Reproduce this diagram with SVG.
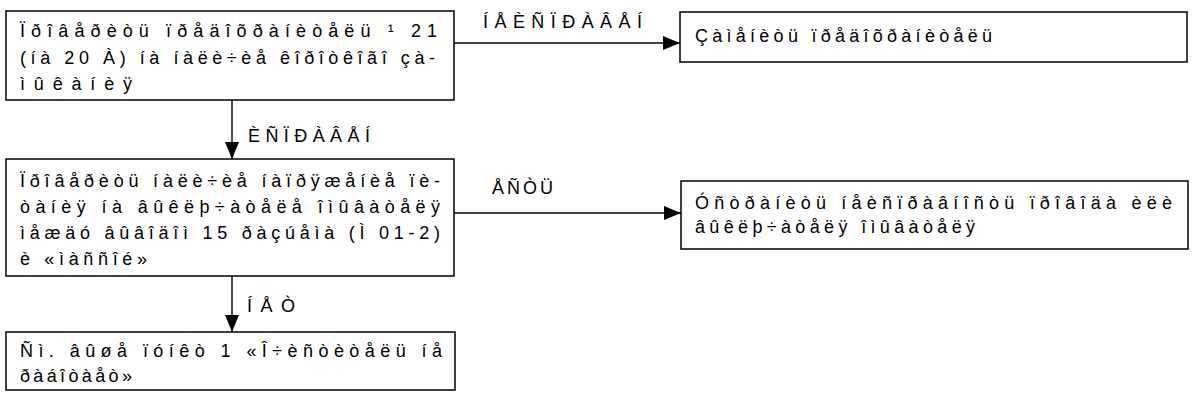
<svg xmlns="http://www.w3.org/2000/svg" width="1202" height="408" viewBox="0 0 1202 408">
<style>
.box{fill:#fff;stroke:#000;stroke-width:1.5}
.t{font-family:"Liberation Sans",Arial,sans-serif;font-size:18px;fill:#000}
.c{stroke:#000;stroke-width:1.4;fill:none}
</style>
<defs>
<marker id="arr" markerUnits="userSpaceOnUse" markerWidth="18" markerHeight="14" refX="17" refY="7" orient="auto">
<path d="M0,0 L17,7 L0,14 z" fill="#000"/>
</marker>
</defs>
<rect width="1202" height="408" fill="#fff"/>
<g id="connectors">
<line class="c" x1="454" y1="43" x2="680" y2="43" marker-end="url(#arr)"/>
<text class="t" x="483" y="28" textLength="159" lengthAdjust="spacing">ÍÅÈÑÏÐÀÂÅÍ</text>
<line class="c" x1="232" y1="100" x2="232" y2="159" marker-end="url(#arr)"/>
<text class="t" x="248" y="142" textLength="122" lengthAdjust="spacing">ÈÑÏÐÀÂÅÍ</text>
<line class="c" x1="454" y1="213" x2="681" y2="213" marker-end="url(#arr)"/>
<text class="t" x="492" y="194" textLength="61" lengthAdjust="spacing">ÅÑÒÜ</text>
<line class="c" x1="232" y1="276" x2="232" y2="332" marker-end="url(#arr)"/>
<text class="t" x="247" y="312" textLength="48" lengthAdjust="spacing">ÍÅÒ</text>
</g>
<g id="node1">
<rect class="box" x="6" y="11" width="448" height="89"/>
<text class="t" x="20" y="37" textLength="417" lengthAdjust="spacing">Ïðîâåðèòü ïðåäîõðàíèòåëü ¹ 21</text>
<text class="t" x="20" y="64" textLength="415" lengthAdjust="spacing">(íà 20 À) íà íàëè÷èå êîðîòêîãî çà-</text>
<text class="t" x="20" y="90" textLength="112" lengthAdjust="spacing">ìûêàíèÿ</text>
</g>
<g id="node2">
<rect class="box" x="680" y="12" width="507" height="50"/>
<text class="t" x="695" y="42" textLength="297" lengthAdjust="spacing">Çàìåíèòü ïðåäîõðàíèòåëü</text>
</g>
<g id="node3">
<rect class="box" x="6" y="159" width="448" height="117"/>
<text class="t" x="20" y="187" textLength="420" lengthAdjust="spacing">Ïðîâåðèòü íàëè÷èå íàïðÿæåíèå ïè-</text>
<text class="t" x="20" y="213" textLength="420" lengthAdjust="spacing">òàíèÿ íà âûêëþ÷àòåëå îìûâàòåëÿ</text>
<text class="t" x="20" y="239" textLength="420" lengthAdjust="spacing">ìåæäó âûâîäîì 15 ðàçúåìà (Ì 01-2)</text>
<text class="t" x="20" y="265" textLength="127" lengthAdjust="spacing">è «ìàññîé»</text>
</g>
<g id="node4">
<rect class="box" x="681" y="181" width="507" height="68"/>
<text class="t" x="695" y="209" textLength="477" lengthAdjust="spacing">Óñòðàíèòü íåèñïðàâíîñòü ïðîâîäà èëè</text>
<text class="t" x="695" y="233" textLength="280" lengthAdjust="spacing">âûêëþ÷àòåëÿ îìûâàòåëÿ</text>
</g>
<g id="node5">
<rect class="box" x="6" y="332" width="449" height="58"/>
<text class="t" x="20" y="357" textLength="422" lengthAdjust="spacing">Ñì. âûøå ïóíêò 1 «Î÷èñòèòåëü íå</text>
<text class="t" x="20" y="382" textLength="112" lengthAdjust="spacing">ðàáîòàåò»</text>
</g>
</svg>
